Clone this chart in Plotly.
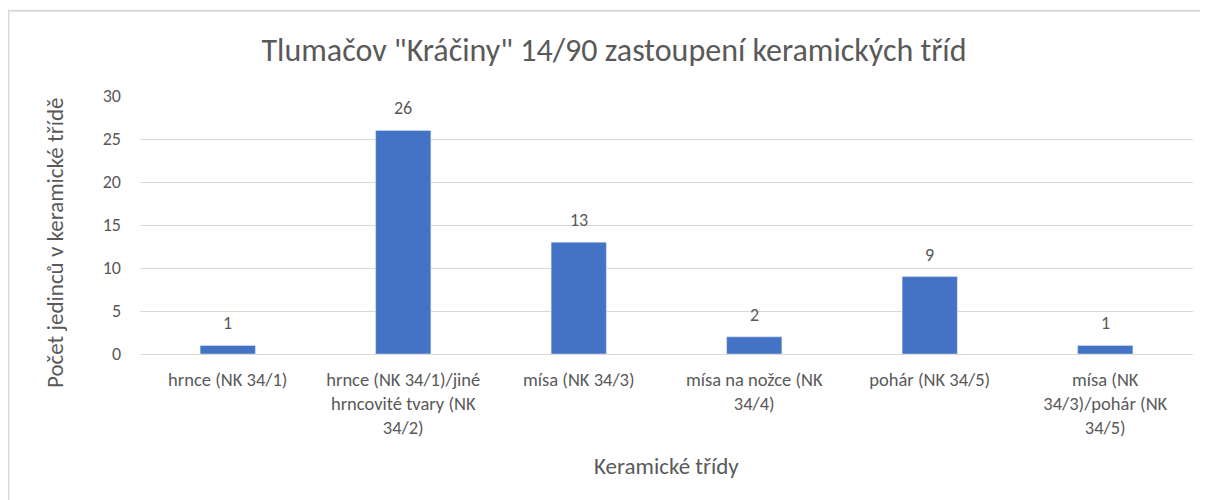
import plotly.graph_objects as go

categories = [
    "hrnce (NK 34/1)",
    "hrnce (NK 34/1)/jiné<br>hrncovité tvary (NK<br>34/2)",
    "mísa (NK 34/3)",
    "mísa na nožce (NK<br>34/4)",
    "pohár (NK 34/5)",
    "mísa (NK<br>34/3)/pohár (NK<br>34/5)",
]
values = [1, 26, 13, 2, 9, 1]
y_ticks = [0, 5, 10, 15, 20, 25, 30]

FONT = "Carlito, Lato, sans-serif"
TXT = "#595959"

# page body has an 8px margin; size the figure so the plot lands where the reference has it
OFF = 8
W, H = 1200, 492
L, R, T, B = 132, 15, 88, 146
pw, ph = W - L - R, H - T - B


def px_x(page_x):
    return (page_x - OFF - L) / pw


def px_y(page_y):
    return (H - (page_y - OFF) - B) / ph


fig = go.Figure(go.Bar(
    x=categories, y=values, marker_color="#4472C4", width=0.315,
    hoverinfo="x+y",
))

for c, v in zip(categories, values):
    fig.add_annotation(x=c, y=v, text=str(v), showarrow=False, yanchor="middle",
                       yshift=22, font=dict(family=FONT, size=18, color=TXT))

# axis titles
fig.add_annotation(xref="paper", yref="paper", x=px_x(55), y=px_y(243),
                   text="Počet jedinců v keramické třídě", textangle=-90, showarrow=False,
                   xanchor="center", yanchor="middle",
                   font=dict(family=FONT, size=23, color=TXT))
fig.add_annotation(xref="paper", yref="paper", x=px_x(666), y=px_y(466),
                   text="Keramické třídy", showarrow=False,
                   xanchor="center", yanchor="middle",
                   font=dict(family=FONT, size=23, color=TXT))

# outer chart border
fig.add_shape(type="rect", xref="paper", yref="paper",
              x0=px_x(8.5), x1=px_x(1230),
              y0=px_y(530), y1=px_y(10.8),
              line=dict(color="#d9d9d9", width=2), fillcolor="rgba(0,0,0,0)", layer="below")

fig.update_layout(
    width=W, height=H,
    margin=dict(l=L, r=R, t=T, b=B),
    paper_bgcolor="white", plot_bgcolor="white",
    showlegend=False,
    font=dict(family=FONT, size=18, color=TXT),
    title=dict(text='Tlumačov "Kráčiny" 14/90 zastoupení keramických tříd',
               x=(614 - OFF) / W, xanchor="center", y=1 - (50 - OFF) / H, yanchor="middle",
               font=dict(family=FONT, size=32, color=TXT)),
    bargap=0.69,
    xaxis=dict(
        type="category", showgrid=False, showline=False, ticks="",
        tickfont=dict(size=18.5, color=TXT), tickangle=0, ticklabelstandoff=12,
    ),
    yaxis=dict(
        range=[0, 30], tickvals=y_ticks, showgrid=True, gridcolor="#d9d9d9", gridwidth=1,
        zeroline=True, zerolinecolor="#d9d9d9", zerolinewidth=1, showline=False,
        ticks="", ticklabelstandoff=18,
        tickfont=dict(size=18, color=TXT),
    ),
)

fig.write_html("out.html")
